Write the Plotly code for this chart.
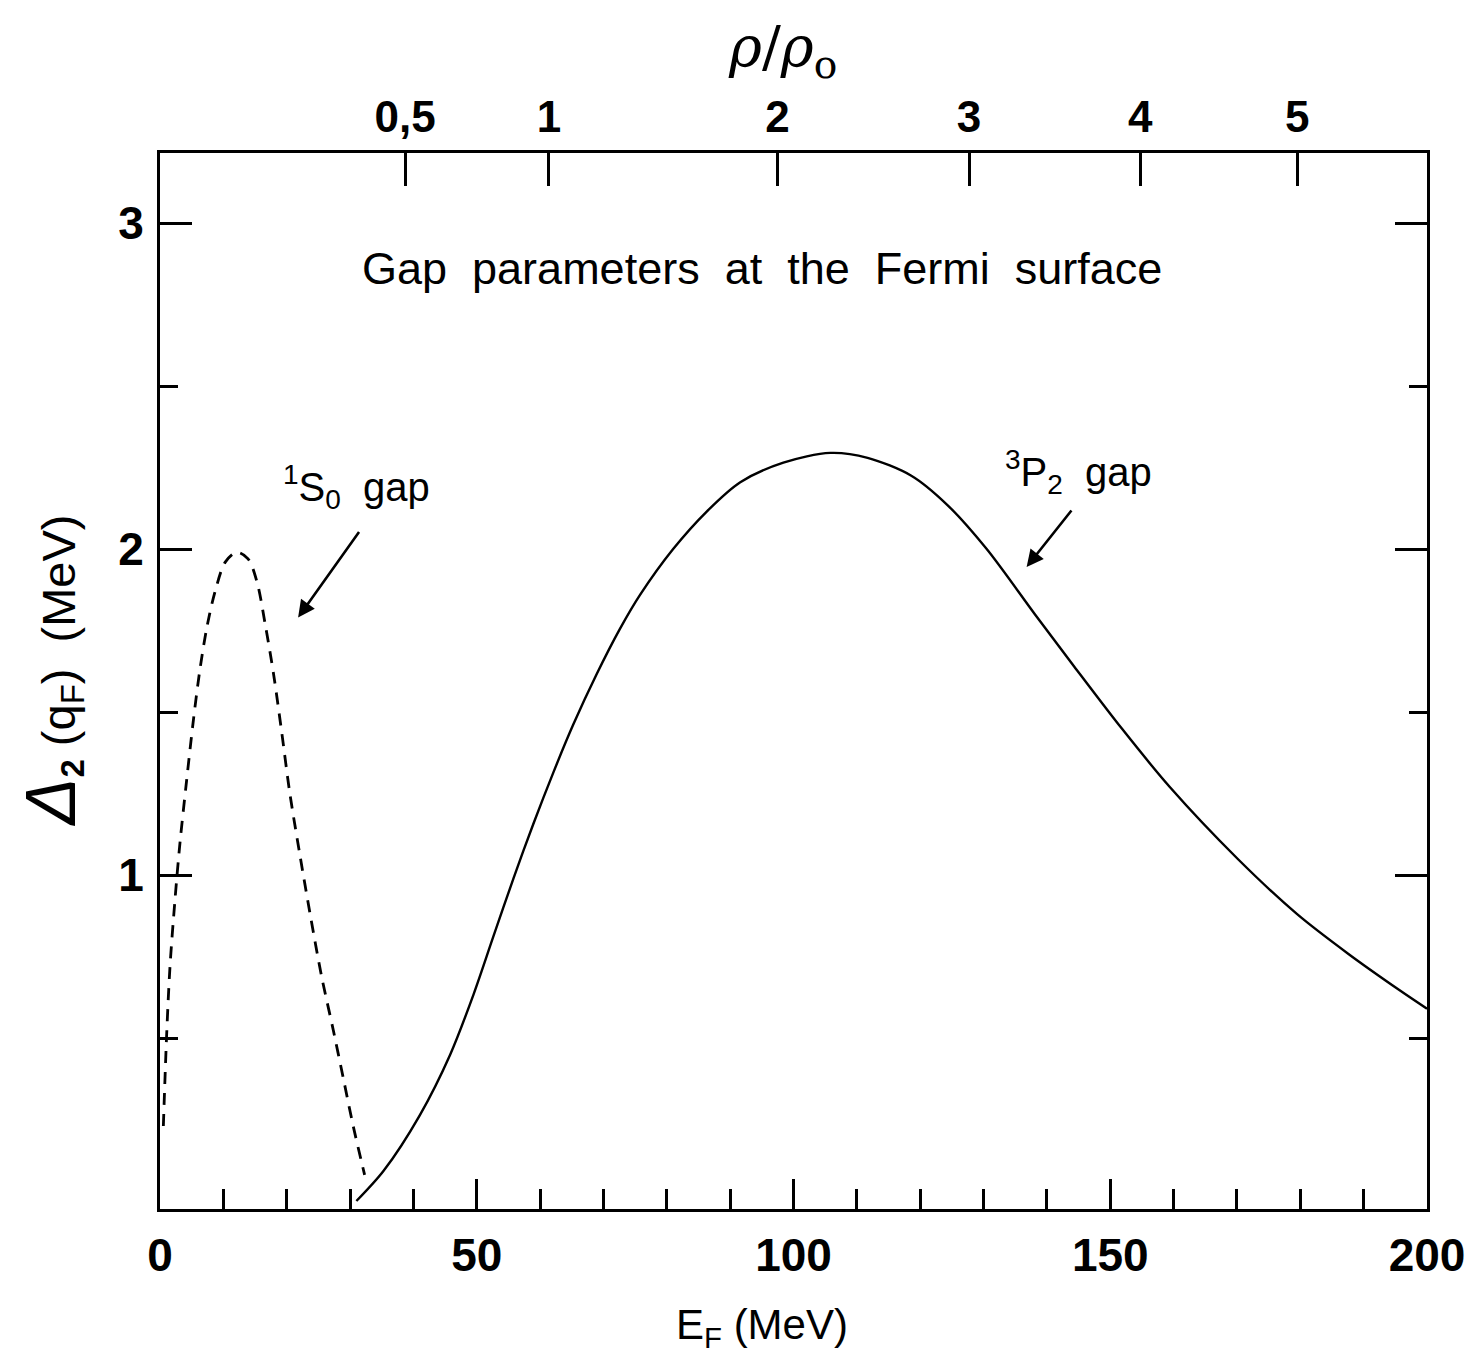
import plotly.graph_objects as go

# 1S0 gap (dashed)
s0_E = [0.53, 1.05, 1.58, 2.37, 3.16, 4.2, 5.3, 6.3, 7.4, 8.7, 10.3, 12.1, 13.9, 15.3, 16.6,
        17.9, 19.2, 20.5, 22.1, 23.7, 25.5, 27.4, 28.9, 30.5, 32.3]
s0_gap = [0.23, 0.51, 0.72, 0.925, 1.10, 1.29, 1.48, 1.63, 1.76, 1.87, 1.96, 1.99, 1.97, 1.90,
          1.77, 1.62, 1.44, 1.25, 1.06, 0.88, 0.69, 0.52, 0.38, 0.23, 0.08]

# 3P2 gap (solid)
p2_E = [31.0, 35.3, 41.0, 45.8, 49.5, 52.6, 55.8, 58.9, 62.1, 65.2, 68.9, 72.6, 75.8, 81.0,
        86.3, 91.6, 98.4, 105.8, 111.7, 118.6, 124.3, 130.5, 138.1, 144.3, 151.8, 159.4,
        170.1, 179.5, 187.6, 195.8, 200.0]
p2_gap = [0.0, 0.093, 0.263, 0.449, 0.634, 0.81, 0.99, 1.155, 1.315, 1.46, 1.615, 1.755, 1.86,
          2.00, 2.115, 2.205, 2.265, 2.295, 2.28, 2.225, 2.135, 2.00, 1.80, 1.64, 1.45, 1.27, 1.05,
          0.88, 0.758, 0.645, 0.59]

# top axis: rho/rho0 values and labels; E_F at rho0
rho_vals = [0.5, 1, 2, 3, 4, 5]
rho_text = ["0,5", "1", "2", "3", "4", "5"]
EF_at_rho0 = 61.4
rho_pos = [EF_at_rho0 * r ** (2.0 / 3.0) for r in rho_vals]

x_ticks = [0, 50, 100, 150, 200]
x_minor = [10, 20, 30, 40, 60, 70, 80, 90, 110, 120, 130, 140, 160, 170, 180, 190]
y_ticks = [1, 2, 3]
y_minor = [0.5, 1.5, 2.5]

FONT = "Liberation Sans"

fig = go.Figure()
fig.add_trace(go.Scatter(x=s0_E, y=s0_gap, mode="lines",
                         line=dict(color="black", width=2.8, dash="12px,9px", shape="spline", smoothing=0.9),
                         showlegend=False))
fig.add_trace(go.Scatter(x=p2_E, y=p2_gap, mode="lines",
                         line=dict(color="black", width=2.4, shape="spline", smoothing=0.85),
                         showlegend=False))
# invisible trace to activate the top axis
fig.add_trace(go.Scatter(x=[0, 200], y=[None, None], xaxis="x2", mode="lines", showlegend=False, hoverinfo="skip"))

fig.update_layout(
    width=1477, height=1364,
    margin=dict(l=152, r=58, t=145, b=163),
    paper_bgcolor="white", plot_bgcolor="white",
    font=dict(family=FONT, color="black"),
    xaxis=dict(range=[0, 200], tickvals=x_ticks, ticks="inside", ticklen=30, tickwidth=2.5,
               tickcolor="black", showline=True, linewidth=3, linecolor="black", mirror=False,
               showgrid=False, zeroline=False, automargin=False,
               tickfont=dict(family=FONT, size=46, weight="bold"), ticklabelstandoff=4,
               minor=dict(tickvals=x_minor, ticks="inside", ticklen=20, tickwidth=2.5, tickcolor="black", showgrid=False)),
    xaxis2=dict(range=[0, 200], overlaying="x", side="top", tickvals=rho_pos, ticktext=rho_text,
                ticks="inside", ticklen=33, tickwidth=2.5, tickcolor="black", automargin=False,
                showline=True, linewidth=3, linecolor="black", showgrid=False, zeroline=False,
                tickfont=dict(family=FONT, size=44, weight="bold"), ticklabelstandoff=0),
    yaxis=dict(range=[-0.0245, 3.215], tickvals=y_ticks, ticks="inside", ticklen=32, tickwidth=2.5,
               tickcolor="black", showline=True, linewidth=3, linecolor="black", mirror="ticks",
               showgrid=False, zeroline=False, automargin=False,
               tickfont=dict(family=FONT, size=46, weight="bold"), ticklabelstandoff=4,
               minor=dict(tickvals=y_minor, ticks="inside", ticklen=18, tickwidth=2.5, tickcolor="black", showgrid=False)),
)

fig.add_annotation(text="Gap  parameters  at  the  Fermi  surface", x=95.0, y=2.86, xref="x", yref="y",
                   showarrow=False, font=dict(family=FONT, size=45))
fig.add_annotation(text="<sup>1</sup>S<sub>0</sub>  gap", x=31.0, y=2.19, xref="x", yref="y",
                   showarrow=False, font=dict(family=FONT, size=40))
fig.add_annotation(text="<sup>3</sup>P<sub>2</sub>  gap", x=145.0, y=2.236, xref="x", yref="y",
                   showarrow=False, font=dict(family=FONT, size=40))
# arrows
fig.add_annotation(x=21.8, y=1.79, xref="x", yref="y", ax=62, ay=-87, text="", showarrow=True,
                   arrowhead=2, arrowsize=1.3, arrowwidth=2.6, arrowcolor="black")
fig.add_annotation(x=136.8, y=1.945, xref="x", yref="y", ax=46, ay=-58, text="", showarrow=True,
                   arrowhead=2, arrowsize=1.3, arrowwidth=2.6, arrowcolor="black")
# axis titles
fig.add_annotation(text="E<sub>F</sub> (MeV)", x=0.475, y=-0.112, xref="paper", yref="paper",
                   showarrow=False, font=dict(family=FONT, size=42), xanchor="center", yanchor="middle")
fig.add_annotation(text="<span style='font-size:70px'><i>Δ</i></span><sub><b>2</b></sub> (q<sub>F</sub>)  (MeV)",
                   x=-0.0852, y=0.51, xref="paper", yref="paper",
                   showarrow=False, textangle=-90, font=dict(family=FONT, size=47), xanchor="center", yanchor="middle")
fig.add_annotation(text="<i>ρ</i>/<i>ρ</i><sub>o</sub>", x=0.4917, y=1.0966, xref="paper", yref="paper",
                   showarrow=False, font=dict(family="DejaVu Serif", size=56), xanchor="center", yanchor="middle")

fig.write_html("out.html")
